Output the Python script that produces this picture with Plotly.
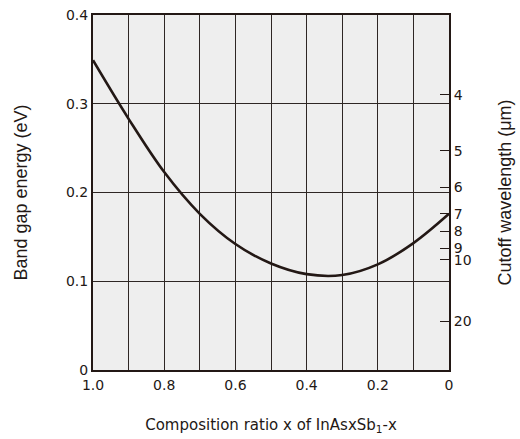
import plotly.graph_objects as go

# Band gap of InAs(x)Sb(1-x) versus composition
composition_x = [1.0, 0.9, 0.8, 0.7, 0.6, 0.5, 0.4, 0.3, 0.2, 0.1, 0.0]
band_gap_ev = [0.349, 0.283, 0.223, 0.176, 0.142, 0.120, 0.108, 0.107, 0.119, 0.143, 0.176]

# Cutoff wavelength scale (right axis): energy positions and labels
cutoff_energy_ev = [0.310, 0.247, 0.206, 0.176, 0.156, 0.137, 0.124, 0.055]
cutoff_labels = ["4", "5", "6", "7", "8", "9", "10", "20"]

x_ticks = [1.0, 0.9, 0.8, 0.7, 0.6, 0.5, 0.4, 0.3, 0.2, 0.1, 0.0]
x_tick_text = ["1.0", " ", "0.8", " ", "0.6", " ", "0.4", " ", "0.2", " ", "0"]
y_ticks = [0, 0.1, 0.2, 0.3, 0.4]
y_tick_text = ["0", "0.1", "0.2", "0.3", "0.4"]

ink = "#231815"
grid = "#2e2624"
tick_font = dict(family="DejaVu Sans", size=14, color=ink)
title_font = dict(family="Liberation Sans", size=18, color=ink)

fig = go.Figure()
fig.add_trace(go.Scatter(
    x=composition_x, y=band_gap_ev, mode="lines",
    line=dict(color=ink, width=2.6, shape="spline", smoothing=1.0),
    hoverinfo="skip", showlegend=False,
))
# invisible trace to activate the right-hand wavelength axis
fig.add_trace(go.Scatter(
    x=[None], y=[None], yaxis="y2", showlegend=False, hoverinfo="skip",
))

fig.update_layout(
    width=520, height=439,
    margin=dict(l=93, r=71, t=15, b=69),
    paper_bgcolor="white",
    plot_bgcolor="#eeeeee",
    xaxis=dict(
        range=[1.0, 0.0], tickvals=x_ticks, ticktext=x_tick_text,
        showgrid=True, gridcolor=grid, gridwidth=1,
        zeroline=False, showline=True, linecolor=ink, linewidth=2, mirror=True,
        ticks="", tickfont=tick_font, ticklabelstandoff=1, automargin=False,
        title=dict(text="Composition ratio x of InAsxSb<sub>1</sub>-x",
                   font=dict(family="DejaVu Sans", size=15, color=ink), standoff=28),
    ),
    yaxis=dict(
        range=[0, 0.4], tickvals=y_ticks, ticktext=y_tick_text,
        showgrid=True, gridcolor=grid, gridwidth=1,
        zeroline=False, showline=True, linecolor=ink, linewidth=2,
        ticks="", tickfont=tick_font, automargin=False,
        title=dict(text="Band gap energy (eV)", font=title_font, standoff=34),
    ),
    yaxis2=dict(
        range=[0, 0.4], overlaying="y", side="right",
        tickvals=cutoff_energy_ev, ticktext=cutoff_labels,
        showgrid=False, zeroline=False,
        showline=True, linecolor=ink, linewidth=2,
        ticks="inside", ticklen=9, tickwidth=1.2, tickcolor=ink,
        tickfont=tick_font, automargin=False,
        title=dict(text="Cutoff wavelength (μm)", font=title_font, standoff=28),
    ),
)

fig.write_html("out.html")
